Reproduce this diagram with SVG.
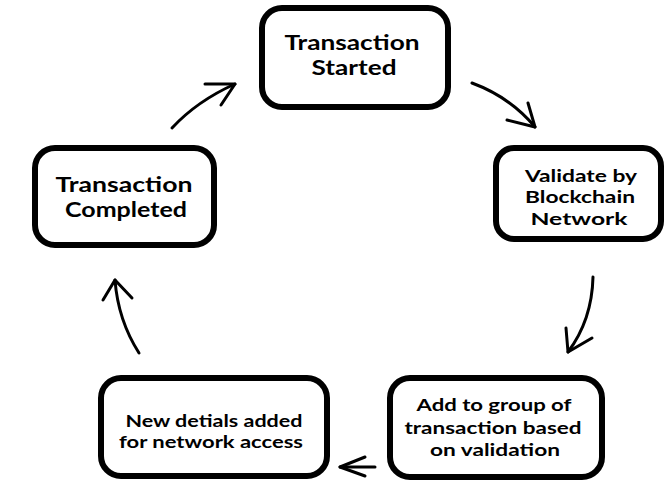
<svg xmlns="http://www.w3.org/2000/svg" width="666" height="482" viewBox="0 0 666 482">
  <style>
    .box { fill: #ffffff; stroke: #000000; stroke-width: 6; }
    .label { font-family: Lato, "Open Sans", "Liberation Sans", sans-serif; font-weight: bold; fill: #000000; text-anchor: middle; }
    .big { font-size: 20px; }
    .small { font-size: 17px; }
    .wire { fill: none; stroke: #000000; stroke-width: 3; stroke-linecap: round; stroke-linejoin: round; }
  </style>
  <rect width="666" height="482" fill="#ffffff"/>

  <!-- process steps -->
  <g id="node-started">
    <rect class="box" x="262" y="8" width="186" height="99" rx="20"/>
    <text class="label big" x="352" y="50" textLength="135" lengthAdjust="spacingAndGlyphs">Transaction</text>
    <text class="label big" x="354" y="75" textLength="85" lengthAdjust="spacingAndGlyphs">Started</text>
  </g>
  <g id="node-validate">
    <rect class="box" x="496" y="148" width="165" height="91" rx="18"/>
    <text class="label small" x="581" y="182" textLength="112" lengthAdjust="spacingAndGlyphs">Validate by</text>
    <text class="label small" x="580" y="203" textLength="110" lengthAdjust="spacingAndGlyphs">Blockchain</text>
    <text class="label small" x="579" y="225" textLength="97" lengthAdjust="spacingAndGlyphs">Network</text>
  </g>
  <g id="node-group">
    <rect class="box" x="390" y="378" width="212" height="99" rx="20"/>
    <text class="label small" x="494" y="411" textLength="155" lengthAdjust="spacingAndGlyphs">Add to group of</text>
    <text class="label small" x="493" y="434" textLength="177" lengthAdjust="spacingAndGlyphs">transaction based</text>
    <text class="label small" x="495" y="456" textLength="130" lengthAdjust="spacingAndGlyphs">on validation</text>
  </g>
  <g id="node-details">
    <rect class="box" x="101" y="378" width="226" height="98" rx="20"/>
    <text class="label small" x="214" y="427" textLength="177" lengthAdjust="spacingAndGlyphs">New detials added</text>
    <text class="label small" x="211" y="448" textLength="184" lengthAdjust="spacingAndGlyphs">for network access</text>
  </g>
  <g id="node-completed">
    <rect class="box" x="35" y="148" width="179" height="97" rx="20"/>
    <text class="label big" x="124" y="192" textLength="137" lengthAdjust="spacingAndGlyphs">Transaction</text>
    <text class="label big" x="126" y="217" textLength="122" lengthAdjust="spacingAndGlyphs">Completed</text>
  </g>

  <!-- hand-drawn connectors -->
  <g id="connectors">
    <path class="wire" d="M172,128 Q197,101 235,84"/>
    <path class="wire" d="M205,84 L235,84 L221,105"/>
    <path class="wire" d="M472,83 Q510,97 535,127"/>
    <path class="wire" d="M507,120 L535,127 L528,103"/>
    <path class="wire" d="M593,277 Q592,320 568,352"/>
    <path class="wire" d="M566,328 L568,352 L592,338"/>
    <path class="wire" d="M375,467 L340,467"/>
    <path class="wire" d="M365,457 L340,467 L365,476"/>
    <path class="wire" d="M139,353 Q118,320 115,280"/>
    <path class="wire" d="M103,300 L115,280 L132,298"/>
  </g>
</svg>
